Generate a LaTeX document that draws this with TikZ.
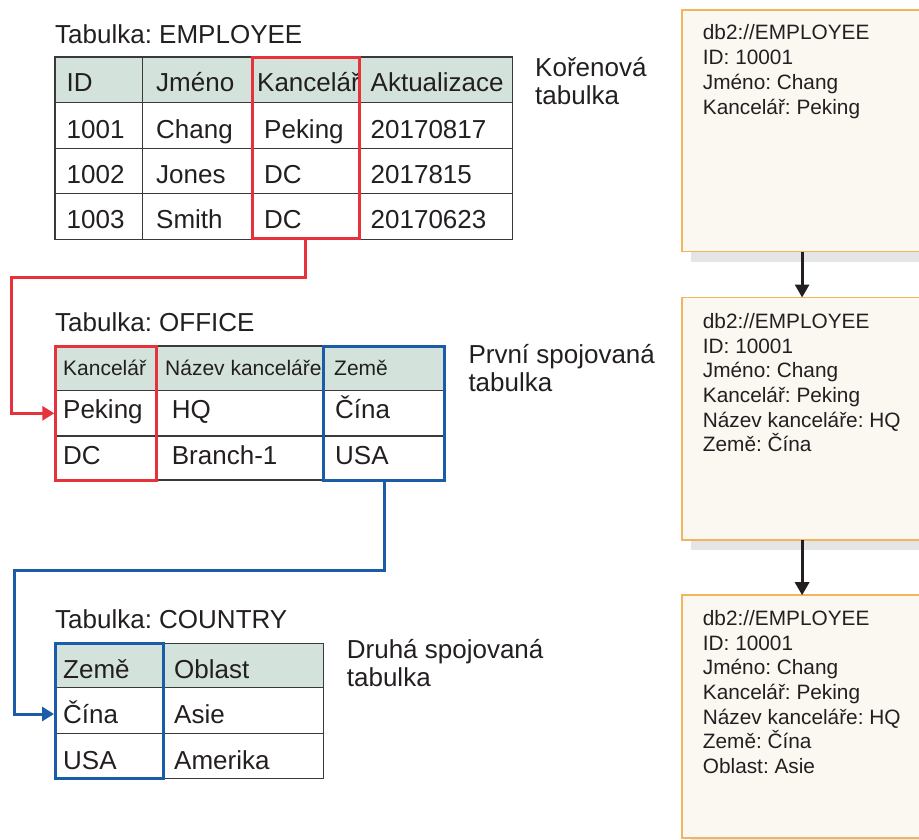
\documentclass[tikz,border=0pt]{standalone}
\usepackage{fontspec}
\setmainfont{Liberation Sans}
\frenchspacing
\usetikzlibrary{arrows.meta,shadows}
\definecolor{txt}{HTML}{231F20}
\definecolor{gridc}{HTML}{3A3A3A}
\definecolor{hdrc}{HTML}{D3E3DB}
\definecolor{redc}{HTML}{E5323B}
\definecolor{bluec}{HTML}{1B5CA8}
\definecolor{orc}{HTML}{F2B45C}
\definecolor{boxc}{HTML}{FBF8F2}
\definecolor{shc}{HTML}{E4E5E6}
\begin{document}
\begin{tikzpicture}[x=1pt,y=-1pt,
  tbl/.style={draw=gridc,line width=1.3pt},
  cell/.style={anchor=base west,inner sep=0,text=txt,font=\fontsize{26}{30}\selectfont},
  smallcell/.style={cell,font=\fontsize{21}{25}\selectfont},
  boxtext/.style={anchor=base west,inner sep=0,text=txt,font=\fontsize{20.8}{24}\selectfont},
  keybox/.style={line width=3pt,inner sep=0,outer sep=0,anchor=north west},
  redbox/.style={keybox,draw=redc},
  bluebox/.style={keybox,draw=bluec},
  redlink/.style={draw=redc,line width=3pt,-{Triangle[length=12pt,width=14pt]}},
  bluelink/.style={draw=bluec,line width=3pt,-{Triangle[length=12pt,width=14pt]}},
  recbox/.style={draw=orc,fill=boxc,line width=1.6pt,inner sep=0,outer sep=0,anchor=north west,
    minimum width=240.6pt,
    drop shadow={shadow xshift=9.5pt,shadow yshift=-10pt,fill=shc,opacity=1}},
  flow/.style={draw=txt,line width=3pt,-{Triangle[length=13pt,width=14pt]}}
]
\useasboundingbox (0,0) rectangle (919,840);

% ---------- EMPLOYEE ----------
\node[cell] (t1) at (55,44) {Tabulka: EMPLOYEE};
\fill[hdrc] (55,57) rectangle (512.7,102.7);
\draw[tbl] (55,57) rectangle (512.7,239.3);
\foreach \yy in {102.7,148.3,193.3} \draw[tbl] (55,\yy) -- (512.7,\yy);
\foreach \xx in {142.3,252,359} \draw[tbl] (\xx,57) -- (\xx,239.3);
\foreach \n/\xx/\yy/\t in {
  eh1/66.5/91.7/ID, eh2/156/91.7/Jméno, eh3/257/91.7/Kancelář, eh4/370.5/91.7/Aktualizace,
  ea1/66.5/138.3/1001, ea2/156/138.3/Chang, ea3/264/138.3/Peking, ea4/370.5/138.3/20170817,
  eb1/66.5/183.3/1002, eb2/156/183.3/Jones, eb3/264/183.3/DC, eb4/370.5/183.3/2017815,
  ec1/66.5/228.3/1003, ec2/156/228.3/Smith, ec3/264/228.3/DC, ec4/370.5/228.3/20170623}
  \node[cell] (\n) at (\xx,\yy) {\t};
\node[redbox,minimum width=107pt,minimum height=181.5pt] (empK) at (252,57.3) {};
\node[cell] (l1a) at (535,76.7) {Kořenová};
\node[cell] (l1b) at (535,105) {tabulka};

% ---------- OFFICE ----------
\node[cell] (t2) at (55,331.7) {Tabulka: OFFICE};
\fill[hdrc] (55,346) rectangle (445,390.7);
\draw[tbl] (55,346) rectangle (445,480);
\foreach \yy in {390.7,436} \draw[tbl] (55,\yy) -- (445,\yy);
\foreach \xx in {156.5,323.8} \draw[tbl] (\xx,346) -- (\xx,480);
\foreach \n/\xx/\yy/\t in {
  oh1/63/375/Kancelář, oh2/165/375/Název kanceláře, oh3/334/375/Země}
  \node[smallcell] (\n) at (\xx,\yy) {\t};
\foreach \n/\xx/\yy/\t in {
  oa1/63/418.3/Peking, oa2/171.7/418.3/HQ, oa3/335/418.3/Čína,
  ob1/63/464/DC, ob2/171.7/464/Branch-1, ob3/335/464/USA}
  \node[cell] (\n) at (\xx,\yy) {\t};
\node[redbox,minimum width=100.7pt,minimum height=134pt] (offK) at (55.8,346) {};
\node[bluebox,minimum width=120.9pt,minimum height=134pt] (offZ) at (323.8,346) {};
\node[cell] (l2a) at (468.3,363.3) {První spojovaná};
\node[cell] (l2b) at (468.3,391.7) {tabulka};

% ---------- COUNTRY ----------
\node[cell] (t3) at (55,628.3) {Tabulka: COUNTRY};
\fill[hdrc] (55,643.8) rectangle (323.3,687.7);
\draw[tbl] (55,643.8) rectangle (323.3,778.7);
\foreach \yy in {687.7,733.3} \draw[tbl] (55,\yy) -- (323.3,\yy);
\draw[tbl] (163.8,643.8) -- (163.8,778.7);
\foreach \n/\xx/\yy/\t in {
  ch1/63/678.3/Země, ch2/174/678.3/Oblast,
  ca1/63/723.3/Čína, ca2/174/723.3/Asie,
  cb1/63/769.3/USA, cb2/174/769.3/Amerika}
  \node[cell] (\n) at (\xx,\yy) {\t};
\node[bluebox,minimum width=108.3pt,minimum height=134.9pt] (couZ) at (55.5,643.8) {};
\node[cell] (l3a) at (346.7,658.3) {Druhá spojovaná};
\node[cell] (l3b) at (346.7,686.7) {tabulka};

% ---------- join connectors ----------
\coordinate (rturn) at (11.5,277);
\coordinate (offin) at (54.3,413.3);
\draw[redlink] (empK.south) |- (rturn) |- (offin);
\coordinate (bturn) at (14.5,570.7);
\coordinate (couin) at (54,714);
\draw[bluelink] (offZ.south) |- (bturn) |- (couin);

% ---------- result records ----------
\node[recbox,minimum height=241.3pt] (b1) at (681.8,10.2) {};
\node[recbox,minimum height=242.3pt] (b2) at (681.8,297.5) {};
\node[recbox,minimum height=243pt] (b3) at (681.8,595.2) {};
\draw[flow] (b1.south) -- (b2.north);
\draw[flow] (b2.south) -- (b3.north);

\foreach \i/\t in {1/{db2://EMPLOYEE}, 2/{ID: 10001}, 3/{Jméno: Chang}, 4/{Kancelář: Peking}}
  \node[boxtext] (b1l\i) at (702.7,{40+24.7*(\i-1)}) {\t};
\foreach \i/\t in {1/{db2://EMPLOYEE}, 2/{ID: 10001}, 3/{Jméno: Chang}, 4/{Kancelář: Peking},
  5/{Název kanceláře: HQ}, 6/{Země: Čína}}
  \node[boxtext] (b2l\i) at (702.7,{328.3+24.7*(\i-1)}) {\t};
\foreach \i/\t in {1/{db2://EMPLOYEE}, 2/{ID: 10001}, 3/{Jméno: Chang}, 4/{Kancelář: Peking},
  5/{Název kanceláře: HQ}, 6/{Země: Čína}, 7/{Oblast: Asie}}
  \node[boxtext] (b3l\i) at (702.7,{625.7+24.6*(\i-1)}) {\t};
\end{tikzpicture}
\end{document}
